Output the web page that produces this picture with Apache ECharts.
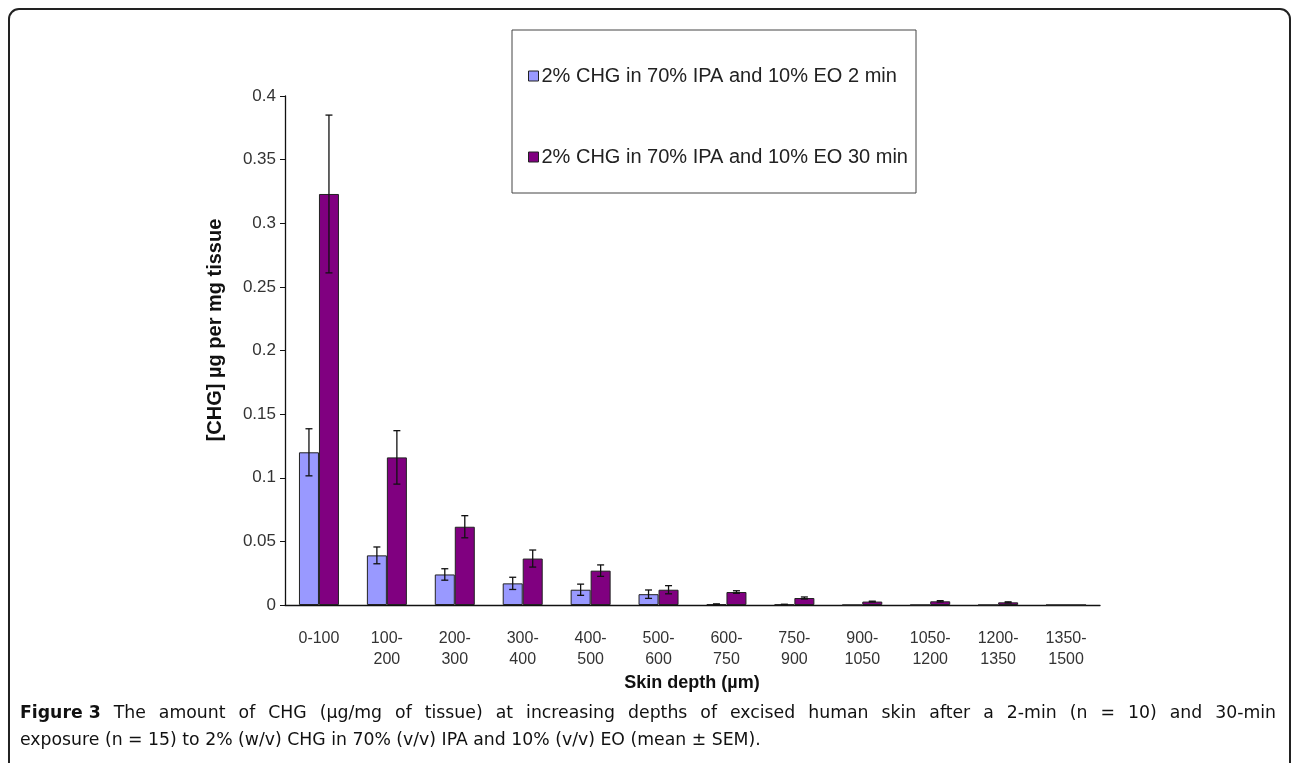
<!DOCTYPE html>
<html>
<head>
<meta charset="utf-8">
<script src="https://cdn.jsdelivr.net/npm/echarts@6/dist/echarts.min.js"></script>
<style>
html,body{margin:0;padding:0;background:#fff;}
#chart{width:1292px;height:763px;}
</style>
</head>
<body>
<div id="chart"></div>
<script>
// ---- data ----
const categories = ['0-100','100-200','200-300','300-400','400-500','500-600','600-750','750-900','900-1050','1050-1200','1200-1350','1350-1500'];
const tickLabels = ['0-100','100-\n200','200-\n300','300-\n400','400-\n500','500-\n600','600-\n750','750-\n900','900-\n1050','1050-\n1200','1200-\n1350','1350-\n1500'];
const seriesNames = ['2% CHG in 70% IPA and 10% EO 2 min','2% CHG in 70% IPA and 10% EO 30 min'];
const values2min  = [0.120, 0.039, 0.024, 0.017, 0.012, 0.0085, 0.0006, 0.0004, 0, 0, 0, 0];
const sem2min     = [0.0185, 0.0066, 0.0045, 0.0048, 0.0044, 0.0033, 0.0003, 0.0002, 0, 0, 0, 0];
const values30min = [0.323, 0.116, 0.0615, 0.0365, 0.027, 0.012, 0.0102, 0.0055, 0.0027, 0.0029, 0.0021, 0];
const sem30min    = [0.062, 0.021, 0.0087, 0.0067, 0.0045, 0.0032, 0.0010, 0.0008, 0.0003, 0.0005, 0.0004, 0];
const yTicks = {min: 0, max: 0.4, interval: 0.05};
const xAxisTitle = 'Skin depth (µm)';
const yAxisTitle = '[CHG] µg per mg tissue';
const captionLine1 = ['Figure 3', 'The amount of CHG (µg/mg of tissue) at increasing depths of excised human skin after a 2-min (n = 10) and 30-min'];
const captionLine2 = 'exposure (n = 15) to 2% (w/v) CHG in 70% (v/v) IPA and 10% (v/v) EO (mean ± SEM).';

const colors = ['#9999ff', '#800080'];
const BAR_W = 20;
const ARIAL = '"Liberation Sans", Arial, sans-serif';

const chart = echarts.init(document.getElementById('chart'));

function errData(vals, errs){
  return vals.map((v,i)=>[i, v - errs[i], v + errs[i], errs[i]]);
}
function errSeries(vals, errs, offset){
  return {
    type: 'custom',
    silent: true,
    z: 5,
    data: errData(vals, errs),
    encode: {x: 0, y: [1,2]},
    renderItem: function(params, api){
      if (api.value(3) <= 0) return null;
      const lo = api.coord([api.value(0), api.value(1)]);
      const hi = api.coord([api.value(0), api.value(2)]);
      const x = lo[0] + offset;
      const cap = 3.5;
      const st = {stroke: '#111', lineWidth: 1.3};
      return {type: 'group', children: [
        {type:'line', shape:{x1:x, y1:lo[1], x2:x, y2:hi[1]}, style: st},
        {type:'line', shape:{x1:x-cap, y1:lo[1], x2:x+cap, y2:lo[1]}, style: st},
        {type:'line', shape:{x1:x-cap, y1:hi[1], x2:x+cap, y2:hi[1]}, style: st}
      ]};
    }
  };
}

// caption layout (justify first line)
const capFont = '"DejaVu Sans", sans-serif';
const capSize = 17.3;
const cvs = document.createElement('canvas').getContext('2d');
function mw(t, bold){ cvs.font = (bold?'bold ':'') + capSize + 'px ' + capFont; return cvs.measureText(t).width; }
const capLeft = 20, capRight = 1276;
const words = [{t: captionLine1[0], b: true}].concat(captionLine1[1].split(' ').map(w=>({t:w,b:false})));
let totalW = 0; words.forEach(w=>{ w.w = mw(w.t, w.b); totalW += w.w; });
const gap = Math.max(2, (capRight - capLeft - totalW) / (words.length - 1));
const capGraphics = [];
let cx = capLeft;
words.forEach(w=>{
  capGraphics.push({type:'text', left: cx, top: 705, style:{text: w.t, font: (w.b?'bold ':'') + capSize + 'px ' + capFont, fill:'#111'}});
  cx += w.w + gap;
});
capGraphics.push({type:'text', left: capLeft, top: 732, style:{text: captionLine2, font: capSize + 'px ' + capFont, fill:'#111'}});

const option = {
  backgroundColor: '#fff',
  animation: false,
  grid: {left: 285, right: 192, top: 96, bottom: 158},
  legend: {
    orient: 'vertical',
    left: 523, top: 61,
    itemWidth: 10, itemHeight: 10,
    itemGap: 61,
    icon: 'rect',
    textStyle: {fontFamily: ARIAL, fontSize: 20, color: '#222', padding: [0,0,0,-2]},
    data: seriesNames,
    itemStyle: {borderColor: '#222', borderWidth: 1}
  },
  xAxis: {
    type: 'category',
    data: categories,
    axisLine: {lineStyle: {color: '#111', width: 1.3}},
    axisTick: {length: 5, lineStyle: {color: '#111'}},
    axisLabel: {
      interval: 0,
      margin: 23,
      fontFamily: ARIAL, fontSize: 16, color: '#333', lineHeight: 21,
      formatter: function(v, i){ return tickLabels[i]; }
    }
  },
  yAxis: {
    type: 'value',
    min: yTicks.min, max: yTicks.max, interval: yTicks.interval,
    axisLine: {show: true, lineStyle: {color: '#111', width: 1.3}},
    axisTick: {show: true, length: 5, lineStyle: {color: '#111'}},
    splitLine: {show: false},
    axisLabel: {fontFamily: ARIAL, fontSize: 17, color: '#333', margin: 9}
  },
  graphic: [
    {type:'rect', shape:{x:9, y:9, width:1281, height:800, r:10}, style:{fill:'none', stroke:'#222', lineWidth:2}, z: 100},
    {type:'rect', shape:{x:512, y:30, width:404, height:163}, style:{fill:'none', stroke:'#444', lineWidth:1}},
    {type:'text', x: 215, y: 330, rotation: Math.PI/2, style:{text: yAxisTitle, font:'bold 20px ' + ARIAL, fill:'#111', align:'center', verticalAlign:'middle'}},
    {type:'text', x: 692, y: 683, style:{text: xAxisTitle, font:'bold 18px ' + ARIAL, fill:'#111', align:'center', verticalAlign:'middle'}}
  ].concat(capGraphics),
  series: [
    {name: seriesNames[0], type: 'bar', data: values2min, barWidth: BAR_W, barGap: '0%',
     itemStyle: {color: colors[0], borderColor: '#222', borderWidth: 1}},
    {name: seriesNames[1], type: 'bar', data: values30min, barWidth: BAR_W, barGap: '0%',
     itemStyle: {color: colors[1], borderColor: '#222', borderWidth: 1}},
    errSeries(values2min, sem2min, -BAR_W/2),
    errSeries(values30min, sem30min, BAR_W/2)
  ]
};
chart.setOption(option);
</script>
</body>
</html>
